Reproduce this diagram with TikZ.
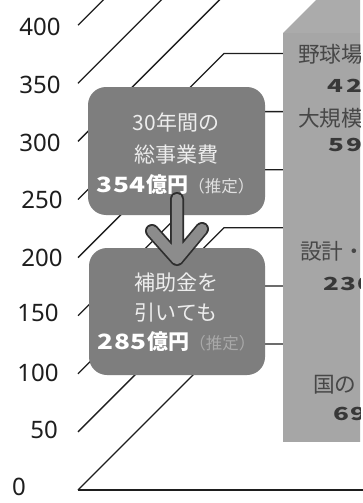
\documentclass[tikz,border=0pt]{standalone}
\usepackage{fontspec}
\setmainfont{Noto Sans CJK JP}
\newfontfamily\axisfont{Noto Sans}
\definecolor{boxgray}{HTML}{7E7E7E}
\definecolor{bargray}{HTML}{A6A6A6}
\definecolor{bartop}{HTML}{ABABAB}
\definecolor{bartext}{HTML}{474747}
\definecolor{barnum}{HTML}{383838}
\definecolor{gridcol}{HTML}{1E1E1E}
\definecolor{arrowout}{HTML}{2E2E2E}
\definecolor{arrowfill}{HTML}{8C8C8C}
\definecolor{fainttxt}{HTML}{A9A9A9}
\newcommand\mydg[1]{\makebox[16.5pt][l]{\scalebox{1.25}[1]{#1}}}
\newcommand\bardg[2]{\makebox[#1][l]{\scalebox{1.45}[1]{#2}}}
\begin{document}
\begin{tikzpicture}[x=1pt,y=-1pt,
  grid/.style={draw=gridcol, line width=1.3pt},
  axislbl/.style={font=\axisfont\fontsize{24}{24}\selectfont, text=gridcol, inner sep=0},
  infobox/.style={fill=boxgray, rounded corners=18pt, draw=none, inner sep=0},
  boxtxt/.style={text=white!93!black, font=\fontsize{21}{21}\selectfont, inner sep=0},
  bartxt/.style={text=bartext, font=\fontsize{21.7}{21.7}\selectfont, anchor=west, inner sep=0},
  barnum/.style={text=barnum, font=\bfseries\fontsize{18}{18}\selectfont, anchor=west, inner sep=0},
]
\fill[white] (0,0) rectangle (363,503);
\useasboundingbox (0,0) rectangle (363,503);
% perspective grid
\foreach \k in {0,...,8}{
  \pgfmathsetmacro\yy{490-58.1*\k}
  \coordinate (gs\k) at (78,\yy);
  \coordinate (gc\k) at (224,\yy-146);
  \coordinate (ge\k) at (283,\yy-146);
  \draw[grid] (gs\k) -- (gc\k) -- (ge\k);
}
\coordinate (floorend) at (363,490);
\draw[grid] (gs0) -- (floorend);
% axis labels
\node[axislbl] (a400) at (40,27) {400};
\node[axislbl] (a350) at (40,85) {350};
\node[axislbl] (a300) at (40,143) {300};
\node[axislbl] (a250) at (42,200) {250};
\node[axislbl] (a200) at (42,258) {200};
\node[axislbl] (a150) at (38,313) {150};
\node[axislbl] (a100) at (38,373) {100};
\node[axislbl] (a50) at (44,430) {50};
\node[axislbl] (a0) at (19,487) {0};
% 3D bar
\begin{scope}
\clip (0,-20) rectangle (360,503);
\fill[bartop] (283,33) -- (333,-17) -- (380,-17) -- (380,33) -- cycle;
\fill[bargray] (283,33) rectangle (380,442);
\node[bartxt] (t1) at (298,54) {野球場};
\node[barnum] (n1) at (327,86) {\bardg{19pt}4\bardg{19pt}2};
\node[bartxt] (t2) at (298,118) {大規模};
\node[barnum] (n2) at (328,145) {\bardg{18pt}5\bardg{18pt}9};
\node[bartxt] (t3) at (300,251) {設計・};
\node[barnum] (n3) at (323,284) {\bardg{17pt}2\bardg{17pt}3\bardg{17pt}0};
\node[bartxt] (t4) at (313,385) {国の};
\node[barnum] (n4) at (333,414) {\bardg{17pt}6\bardg{17pt}9};
\end{scope}
% info boxes
\node[infobox, minimum width=177pt, minimum height=128pt] (box1) at (176.5,151) {};
\node[infobox, minimum width=176pt, minimum height=127pt] (box2) at (177,311.5) {};
\node[boxtxt] (b1a) at (176,122) {30年間の};
\node[boxtxt] (b1b) at (176,155) {総事業費};
\node[boxtxt, text=white] (b1c) at (175.5,185) {{\bfseries\mydg3\mydg5\mydg4億円}{\color{white!88!black}\fontsize{16.5}{16.5}\selectfont（推定）}};
\node[boxtxt] (b2a) at (176,283) {補助金を};
\node[boxtxt] (b2b) at (176,313) {引いても};
\node[boxtxt, text=white] (b2c) at (176.5,342) {{\bfseries\mydg2\mydg8\mydg5億円}{\color{fainttxt}\fontsize{16.5}{16.5}\selectfont（推定）}};
% arrow
\coordinate (arT) at (177,199);
\coordinate (arP) at (177,259);
\coordinate (arL) at (152,231);
\coordinate (arR) at (202,229);
\draw[arrowout, line width=14pt, line cap=round, line join=round] (arT) -- (arP) (arL) -- (arP) -- (arR);
\draw[arrowfill, line width=10.5pt, line cap=round, line join=round] (arT) -- (arP) (arL) -- (arP) -- (arR);
\end{tikzpicture}
\end{document}
